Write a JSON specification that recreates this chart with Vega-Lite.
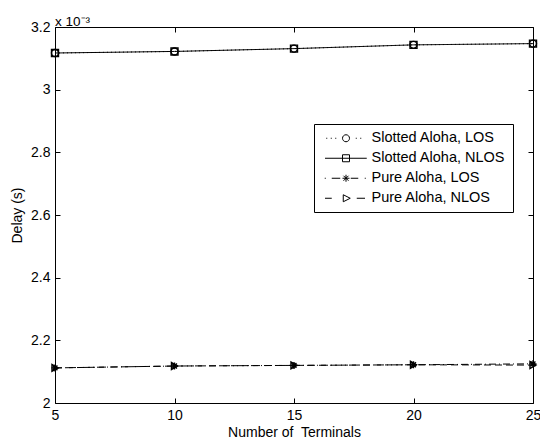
{
  "$schema": "https://vega.github.io/schema/vega-lite/v6.json",
  "width": 478,
  "height": 376,
  "autosize": {"type": "none"},
  "padding": {"left": 55, "top": 27, "right": 7, "bottom": 40},
  "background": "white",
  "config": {
    "font": "Liberation Sans",
    "view": {"stroke": "black", "strokeWidth": 1},
    "axis": {
      "domain": false, "grid": false, "tickColor": "black", "tickWidth": 1,
      "labelColor": "black", "titleColor": "black",
      "labelFont": "Liberation Sans", "titleFont": "Liberation Sans",
      "labelFontSize": 14, "titleFontSize": 14, "titleFontWeight": "normal",
      "tickSize": -5, "labelPadding": 10, "minExtent": 0
    }
  },
  "title": {
    "text": "x 10⁻³", "anchor": "start", "frame": "group", "orient": "top",
    "font": "Liberation Sans", "fontSize": 13.5, "fontWeight": "normal", "color": "black",
    "offset": 5, "dy": 13
  },
  "data": {
    "values": [
      {"series": "Slotted Aloha, LOS", "terminals": 5, "delay": 3.117},
      {"series": "Slotted Aloha, LOS", "terminals": 10, "delay": 3.122},
      {"series": "Slotted Aloha, LOS", "terminals": 15, "delay": 3.131},
      {"series": "Slotted Aloha, LOS", "terminals": 20, "delay": 3.143},
      {"series": "Slotted Aloha, LOS", "terminals": 25, "delay": 3.147},
      {"series": "Slotted Aloha, NLOS", "terminals": 5, "delay": 3.117},
      {"series": "Slotted Aloha, NLOS", "terminals": 10, "delay": 3.122},
      {"series": "Slotted Aloha, NLOS", "terminals": 15, "delay": 3.131},
      {"series": "Slotted Aloha, NLOS", "terminals": 20, "delay": 3.143},
      {"series": "Slotted Aloha, NLOS", "terminals": 25, "delay": 3.147},
      {"series": "Pure Aloha, LOS", "terminals": 5, "delay": 2.112},
      {"series": "Pure Aloha, LOS", "terminals": 10, "delay": 2.118},
      {"series": "Pure Aloha, LOS", "terminals": 15, "delay": 2.120},
      {"series": "Pure Aloha, LOS", "terminals": 20, "delay": 2.122},
      {"series": "Pure Aloha, LOS", "terminals": 25, "delay": 2.125},
      {"series": "Pure Aloha, NLOS", "terminals": 5, "delay": 2.112},
      {"series": "Pure Aloha, NLOS", "terminals": 10, "delay": 2.118},
      {"series": "Pure Aloha, NLOS", "terminals": 15, "delay": 2.120},
      {"series": "Pure Aloha, NLOS", "terminals": 20, "delay": 2.122},
      {"series": "Pure Aloha, NLOS", "terminals": 25, "delay": 2.121}
    ]
  },
  "resolve": {
    "scale": {"shape": "independent"},
    "axis": {"x": "independent", "y": "independent"},
    "legend": {"shape": "independent"}
  },
  "layer": [
    {
      "mark": {"type": "line", "color": "black", "strokeWidth": 1},
      "encoding": {
        "x": {
          "field": "terminals", "type": "quantitative",
          "scale": {"domain": [5, 25], "nice": false, "zero": false},
          "axis": {"orient": "bottom", "values": [5, 10, 15, 20, 25], "title": "Number of\u00a0 Terminals",
                   "labelFlush": false, "labelOverlap": false, "titlePadding": 3}
        },
        "y": {
          "field": "delay", "type": "quantitative",
          "scale": {"domain": [2, 3.2], "nice": false, "zero": false},
          "axis": {"orient": "left", "values": [2, 2.2, 2.4, 2.6, 2.8, 3, 3.2], "format": "~g",
                   "title": "Delay (s)", "labelFlush": false, "labelOverlap": false, "titlePadding": 6}
        },
        "strokeDash": {
          "field": "series", "type": "nominal",
          "scale": {
            "domain": ["Slotted Aloha, LOS", "Slotted Aloha, NLOS", "Pure Aloha, LOS", "Pure Aloha, NLOS"],
            "range": [[1, 3], [1, 0], [7, 3, 1, 3], [7, 4]]
          },
          "legend": null
        }
      }
    },
    {
      "mark": {"type": "point", "filled": false, "color": "black", "size": 49, "strokeWidth": 1.4, "opacity": 1},
      "encoding": {
        "x": {"field": "terminals", "type": "quantitative", "axis": null},
        "y": {"field": "delay", "type": "quantitative", "axis": null},
        "shape": {
          "field": "series", "type": "nominal",
          "scale": {
            "domain": ["Slotted Aloha, LOS", "Slotted Aloha, NLOS", "Pure Aloha, LOS", "Pure Aloha, NLOS"],
            "range": ["circle", "square", "M-1,0H1M0,-1V1M-0.7,-0.7L0.7,0.7M-0.7,0.7L0.7,-0.7", "triangle-right"]
          },
          "legend": null
        }
      }
    },
    {
      "mark": {"type": "point", "filled": false, "color": "black", "size": 4, "strokeWidth": 1, "opacity": 0},
      "encoding": {
        "x": {
          "field": "terminals", "type": "quantitative",
          "axis": {"orient": "top", "values": [5, 10, 15, 20, 25], "labels": false, "title": null, "domain": false, "maxExtent": 0}
        },
        "y": {
          "field": "delay", "type": "quantitative",
          "axis": {"orient": "right", "values": [2, 2.2, 2.4, 2.6, 2.8, 3, 3.2], "labels": false, "title": null, "domain": false, "maxExtent": 0}
        },
        "shape": {
          "field": "series", "type": "nominal",
          "scale": {
            "domain": ["Slotted Aloha, LOS", "Slotted Aloha, NLOS", "Pure Aloha, LOS", "Pure Aloha, NLOS"],
            "range": [
              "M-2,0h1M2.5,0h1M7,0h1M27.5,0h1M32,0h1M21.25,0A3.5,3.5 0 1 1 14.25,0A3.5,3.5 0 1 1 21.25,0",
              "M-3.25,0H38.5M14.25,-3.5H21.25V3.5H14.25Z",
              "M-3.5,0h1M3.5,0H12M14.25,0H21.25M17.75,-3.5V3.5M15.25,-2.5L20.25,2.5M15.25,2.5L20.25,-2.5M22.5,0H30M36.5,0h1",
              "M-3.25,0H3.5M15,-3.5L22,0L15,3.5ZM28.5,0H36.75"
            ]
          },
          "legend": {
            "orient": "none", "legendX": 259, "legendY": 97, "title": null,
            "strokeColor": "black", "fillColor": "white", "padding": 7, "rowPadding": 5,
            "cornerRadius": 0,
            "labelFont": "Liberation Sans", "labelFontSize": 14.5, "labelColor": "black",
            "labelOffset": 36, "labelLimit": 400,
            "symbolOpacity": 1, "symbolStrokeColor": "black", "symbolStrokeWidth": 1,
            "symbolFillColor": "transparent", "symbolSize": 4
          }
        }
      }
    }
  ]
}
